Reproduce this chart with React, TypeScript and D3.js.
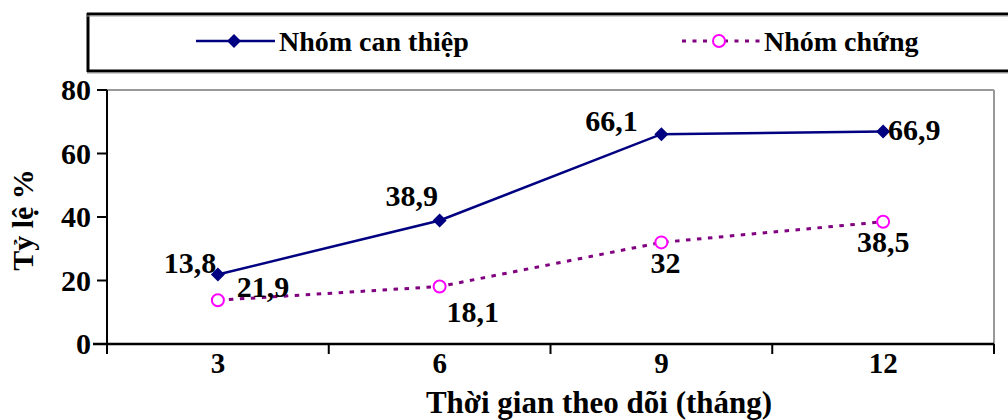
import React from "react";
import * as d3 from "d3";

// Follow-up months and success rates (%) for the two groups
const months = ["3", "6", "9", "12"];
const interventionValues = [21.9, 38.9, 66.1, 66.9];
const controlValues = [13.8, 18.1, 32, 38.5];
const yTicks = [0, 20, 40, 60, 80];

const seriesNames = ["Nhóm can thiệp", "Nhóm chứng"];

// Offsets of each value label from its marker (dx, baseline dy)
const interventionLabelOffsets: [number, number][] = [
  [45, 23],
  [-28, -14],
  [-50, -3],
  [31, 8],
];
const controlLabelOffsets: [number, number][] = [
  [-28, -27],
  [33, 35],
  [4, 31],
  [0, 30],
];

const fmt = (v: number) => String(v).replace(".", ",");

const W = 1008;
const H = 420;
const plot = { left: 107, right: 994, top: 90, bottom: 344 };
const font = "'Times New Roman', 'Liberation Serif', serif";
const navy = "#000080";
const purple = "#800080";
const magenta = "#FF00FF";

export default function App() {
  const x = d3
    .scaleBand<string>()
    .domain(months)
    .range([plot.left, plot.right])
    .paddingInner(0)
    .paddingOuter(0);
  const y = d3.scaleLinear().domain([0, 80]).range([plot.bottom, plot.top]);
  const cx = (m: string) => (x(m) as number) + x.bandwidth() / 2;

  const line = d3
    .line<number>()
    .x((_, i) => cx(months[i]))
    .y((v) => y(v));

  const diamond = (px: number, py: number, r: number) =>
    `M${px},${py - r}L${px + r},${py}L${px},${py + r}L${px - r},${py}Z`;

  const boundaries = [...months.map((m) => x(m) as number), plot.right];

  return (
    <svg
      width={W}
      height={H}
      style={{
        position: "absolute",
        left: 0,
        top: 0,
        background: "#fff",
        fontFamily: font,
        fontWeight: "bold",
      }}
    >
      {/* legend box */}
      <line x1={87} y1={14} x2={W} y2={14} stroke="#000" strokeWidth={3} />
      <line x1={87} y1={71} x2={W} y2={71} stroke="#000" strokeWidth={3} />
      <line x1={88} y1={13} x2={88} y2={72} stroke="#000" strokeWidth={3} />
      <line x1={87} y1={16} x2={W} y2={16} stroke="#999" strokeWidth={1} />
      <line x1={87} y1={73} x2={W} y2={73} stroke="#999" strokeWidth={1} />

      <line x1={196} y1={41} x2={275} y2={41} stroke={navy} strokeWidth={2.5} />
      <path d={diamond(234, 41, 7)} fill={navy} />
      <text x={279} y={51} fontSize={28} fill="#000">
        {seriesNames[0]}
      </text>

      <line
        x1={682}
        y1={41}
        x2={760}
        y2={41}
        stroke={purple}
        strokeWidth={3}
        strokeDasharray="4,6.5"
      />
      <circle cx={719} cy={41} r={6} fill="#fff" stroke={magenta} strokeWidth={2} />
      <text x={764} y={51} fontSize={28} fill="#000">
        {seriesNames[1]}
      </text>

      {/* plot area border */}
      <line x1={plot.left} y1={plot.top} x2={plot.right} y2={plot.top} stroke="#999" strokeWidth={2} />
      <line x1={plot.right} y1={plot.top} x2={plot.right} y2={plot.bottom} stroke="#999" strokeWidth={2} />

      {/* y axis */}
      <line x1={plot.left} y1={plot.top} x2={plot.left} y2={plot.bottom} stroke="#000" strokeWidth={2} />
      {yTicks.map((t) => (
        <g key={t}>
          <line x1={plot.left - 10} y1={y(t)} x2={plot.left} y2={y(t)} stroke="#000" strokeWidth={2} />
          <text x={91} y={y(t) + 10} fontSize={30} textAnchor="end" fill="#000">
            {t}
          </text>
        </g>
      ))}
      <text
        transform={`translate(33,220) rotate(-90)`}
        fontSize={30}
        textAnchor="middle"
        fill="#000"
      >
        Tỷ lệ %
      </text>

      {/* x axis */}
      <line x1={plot.left - 14} y1={plot.bottom} x2={plot.right} y2={plot.bottom} stroke="#000" strokeWidth={2.5} />
      {boundaries.map((b, i) => (
        <line key={i} x1={b} y1={plot.bottom} x2={b} y2={plot.bottom + 10} stroke="#000" strokeWidth={2} />
      ))}
      {months.map((m) => (
        <text key={m} x={cx(m)} y={373} fontSize={29} textAnchor="middle" fill="#000">
          {m}
        </text>
      ))}
      <text x={599} y={413} fontSize={31} textAnchor="middle" fill="#000">
        Thời gian theo dõi (tháng)
      </text>

      {/* control group */}
      <path
        d={line(controlValues) || ""}
        fill="none"
        stroke={purple}
        strokeWidth={3}
        strokeDasharray="4.5,6.5"
      />
      {controlValues.map((v, i) => (
        <circle key={i} cx={cx(months[i])} cy={y(v)} r={6} fill="#fff" stroke={magenta} strokeWidth={2} />
      ))}

      {/* intervention group */}
      <path d={line(interventionValues) || ""} fill="none" stroke={navy} strokeWidth={2.5} />
      {interventionValues.map((v, i) => (
        <path key={i} d={diamond(cx(months[i]), y(v), 7)} fill={navy} />
      ))}

      {/* value labels */}
      {controlValues.map((v, i) => (
        <text
          key={"c" + i}
          x={cx(months[i]) + controlLabelOffsets[i][0]}
          y={y(v) + controlLabelOffsets[i][1]}
          fontSize={30}
          textAnchor="middle"
          fill="#000"
        >
          {fmt(v)}
        </text>
      ))}
      {interventionValues.map((v, i) => (
        <text
          key={"b" + i}
          x={cx(months[i]) + interventionLabelOffsets[i][0]}
          y={y(v) + interventionLabelOffsets[i][1]}
          fontSize={30}
          textAnchor="middle"
          fill="#000"
        >
          {fmt(v)}
        </text>
      ))}
    </svg>
  );
}
